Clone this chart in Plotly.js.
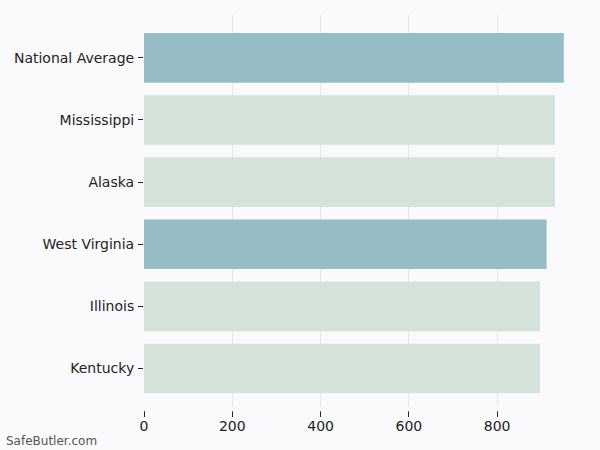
<!DOCTYPE html>
<html>
<head>
<meta charset="utf-8">
<script src="https://cdn.plot.ly/plotly-3.0.1.min.js"></script>
<style>
  html, body { margin: 0; padding: 0; background: #fafafc; }
  #plot { width: 600px; height: 450px; }
</style>
</head>
<body>
<div id="plot"></div>
<script>
const states = ["National Average", "Mississippi", "Alaska", "West Virginia", "Illinois", "Kentucky"];
const premiums = [951, 931, 931, 912, 897, 897];
const highlighted = ["National Average", "West Virginia"];
const xTicks = [0, 200, 400, 600, 800];

const barColors = states.map((s) => (highlighted.includes(s) ? "#96bcc5" : "#d5e2d9"));

const traces = [
  {
    type: "bar",
    orientation: "h",
    x: premiums,
    y: states,
    width: 0.8,
    marker: { color: barColors, line: { width: 0 } },
    hoverinfo: "x+y",
  },
];

const font = { family: '"DejaVu Sans", sans-serif', size: 14, color: "#222222" };

const layout = {
  width: 600,
  height: 450,
  paper_bgcolor: "#fafafc",
  plot_bgcolor: "#fafafc",
  font: font,
  showlegend: false,
  margin: { l: 144, r: 15, t: 15, b: 43 },
  xaxis: {
    range: [0, 999],
    tickvals: xTicks,
    ticktext: xTicks.map(String),
    showgrid: true,
    gridcolor: "#e6e6e6",
    gridwidth: 1,
    zeroline: false,
    showline: false,
    ticks: "outside",
    ticklen: 9,
    tickwidth: 1,
    tickcolor: "#222222",
    tickfont: font,
    ticklabelstandoff: -3,
  },
  yaxis: {
    type: "category",
    categoryorder: "array",
    categoryarray: states,
    range: [5.62, -0.69],
    showgrid: false,
    zeroline: false,
    showline: false,
    ticks: "outside",
    ticklen: 5,
    tickwidth: 1,
    tickcolor: "#222222",
    tickfont: font,
    ticklabelstandoff: 1,
  },
  shapes: xTicks.map((v) => ({
    type: "line",
    xref: "x",
    yref: "paper",
    x0: v,
    x1: v,
    y0: -0.011,
    y1: 0,
    line: { color: "#fafafc", width: 2 },
    layer: "above",
  })),
  annotations: [
    {
      text: "SafeButler.com",
      xref: "paper",
      yref: "paper",
      x: -0.318,
      y: -0.087,
      xanchor: "left",
      yanchor: "middle",
      showarrow: false,
      font: { family: '"DejaVu Sans", sans-serif', size: 12, color: "#555555" },
    },
  ],
};

Plotly.newPlot("plot", traces, layout, { displayModeBar: false, staticPlot: true });
</script>
</body>
</html>
